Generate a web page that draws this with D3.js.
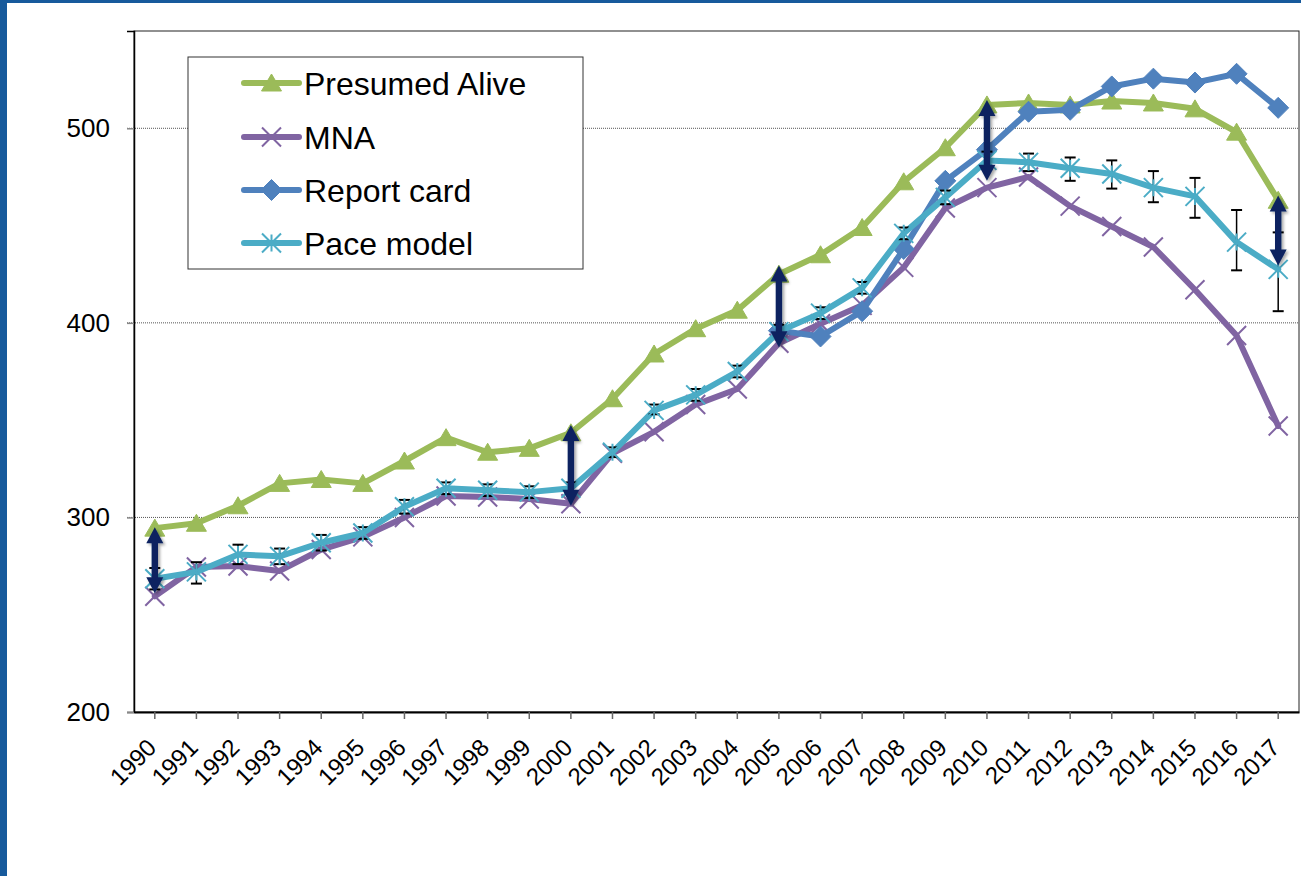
<!DOCTYPE html>
<html>
<head>
<meta charset="utf-8">
<script src="https://cdn.jsdelivr.net/npm/d3@7"></script>
<style>
  html, body { margin: 0; padding: 0; background: #fff; }
  svg { display: block; font-family: "Liberation Sans", Arial, sans-serif; }
</style>
</head>
<body>
<svg id="chart" width="1301" height="876"></svg>
<script>
const years = [1990,1991,1992,1993,1994,1995,1996,1997,1998,1999,2000,2001,2002,2003,2004,2005,2006,2007,2008,2009,2010,2011,2012,2013,2014,2015,2016,2017];

const presumedAlive = [294.5,297,306,317.5,319.5,317.5,329,341,333.5,335.5,343.5,361,384,397,406.5,425,435,449,472.5,490,512,513,512,514,513,510,498,463];
const mna = [259.5,274.5,275,272.5,283.5,290,300,311,310.5,309.5,307,333,344,358,366,389.5,399.5,409,428.5,459,469.5,475,460,449.5,439,417,393.5,347];
const reportCard = [null,null,null,null,null,null,null,null,null,null,null,null,null,null,null,396,393,406,438,473,489,508.5,509.5,521.5,525.5,523.5,528,510.5];
const paceModel = [268.5,272,281,280,287,292,305.5,315,314,313,315,333.5,355,363,375,395.5,405,418,446,464.5,483.5,482.5,479.5,476.5,469.5,465,441.5,427.5];
const paceLow  = [263,266,276,276,283,289,302,312,311,310,312,331,353,360,372,393,402,415,443,461,479,478,473,469,462,454,427,406];
const paceHigh = [274,277,286,284,291,295,309,318,317,316,318,336,358,366,378,399,408,421,449,468,488,487,485,483.5,478,474.5,458,446.5];

const arrowYears  = [1990,2000,2005,2010,2017];
const arrowTop    = [295,347.5,429.5,514.5,465.5];
const arrowBottom = [261,306,387.5,473,429.5];

const yTicks = [200,300,400,500];
const seriesNames = ["Presumed Alive","MNA","Report card","Pace model"];
const seriesColors = ["#9BBB59","#8064A2","#4F81BD","#4BACC6"];
const seriesMarkers = ["triangle","cross","diamond","star"];

const svg = d3.select("#chart");
const W = 1301, H = 876;
const plot = {left: 134, right: 1299, top: 31, bottom: 712};

svg.append("rect").attr("x",0).attr("y",0).attr("width",W).attr("height",H).attr("fill","#fff");
svg.append("rect").attr("x",0).attr("y",0).attr("width",7).attr("height",H).attr("fill","#175A9C");
svg.append("rect").attr("x",0).attr("y",0).attr("width",W).attr("height",3).attr("fill","#175A9C");

const defs = svg.append("defs");
const f = defs.append("filter").attr("id","shadow").attr("x","-50%").attr("y","-20%").attr("width","200%").attr("height","140%");
f.append("feDropShadow").attr("dx",2).attr("dy",2).attr("stdDeviation",1.5).attr("flood-color","#000").attr("flood-opacity",0.35);

const x = d3.scaleBand().domain(years).range([plot.left, plot.right]);
const xc = d => x(d) + x.bandwidth()/2;
const y = d3.scaleLinear().domain([200,550]).range([plot.bottom, plot.top]);

// gridlines
svg.append("g").selectAll("line").data(yTicks.filter(t => t !== 200)).join("line")
  .attr("x1", plot.left - 7).attr("x2", plot.right)
  .attr("y1", d => y(d)).attr("y2", d => y(d))
  .attr("stroke","#555").attr("stroke-width",1).attr("stroke-dasharray","1,1");

// plot frame
svg.append("rect").attr("x",plot.left).attr("y",plot.top)
  .attr("width",plot.right-plot.left).attr("height",plot.bottom-plot.top)
  .attr("fill","none").attr("stroke","#222").attr("stroke-width",1);

// y axis
const yAxis = d3.axisLeft(y).tickValues(yTicks).tickSize(7).tickPadding(17).tickFormat(d3.format("d"));
const gy = svg.append("g").attr("transform",`translate(${plot.left},0)`).call(yAxis);
gy.attr("font-size",26).attr("font-family","'Liberation Sans', Arial, sans-serif");
gy.select(".domain").attr("stroke","#000").attr("stroke-width",1.5);
gy.selectAll(".tick line").attr("stroke","#888").attr("stroke-width",1.5);
gy.selectAll(".tick text").attr("fill","#000");

// x axis
const xAxis = d3.axisBottom(x).tickSize(7).tickSizeOuter(0);
const gx = svg.append("g").attr("transform",`translate(0,${plot.bottom})`).call(xAxis);
gx.attr("font-size",24).attr("font-family","'Liberation Sans', Arial, sans-serif");
gx.select(".domain").attr("stroke","#000").attr("stroke-width",2);
gx.selectAll(".tick line").attr("stroke","#666").attr("stroke-width",1.5);
gx.selectAll(".tick text")
  .attr("fill","#000")
  .attr("text-anchor","end")
  .attr("dy",0).attr("y",0)
  .attr("transform","translate(3,37) rotate(-45)");

function markerPath(type){
  switch(type){
    case "triangle": return "M0,-9L10,8L-10,8Z";
    case "diamond":  return "M0,-10.5L10.5,0L0,10.5L-10.5,0Z";
    case "cross":    return "M-9.5,-9.5L9.5,9.5M-9.5,9.5L9.5,-9.5";
    case "star":     return "M-9.5,-9.5L9.5,9.5M-9.5,9.5L9.5,-9.5M0,-8.5L0,8.5";
  }
}
function drawMarker(g, type, color){
  const filled = (type === "triangle" || type === "diamond");
  g.append("path").attr("d", markerPath(type))
    .attr("fill", filled ? color : "none")
    .attr("stroke", color)
    .attr("stroke-width", filled ? 1 : 2);
}

const allSeries = [presumedAlive, mna, reportCard, paceModel];
const lineGen = d3.line().defined(d => d.v != null).x(d => xc(d.year)).y(d => y(d.v));

allSeries.forEach((vals, i) => {
  const data = years.map((yr, j) => ({year: yr, v: vals[j]}));
  const g = svg.append("g");
  g.append("path").datum(data).attr("d", lineGen)
    .attr("fill","none").attr("stroke",seriesColors[i]).attr("stroke-width",6)
    .attr("stroke-linejoin","round").attr("stroke-linecap","round");
  if (i === 3) {
    const eb = g.append("g");
    years.forEach((yr, j) => {
      const cx = xc(yr);
      eb.append("line").attr("x1",cx).attr("x2",cx).attr("y1",y(paceLow[j])).attr("y2",y(paceHigh[j]))
        .attr("stroke","#000").attr("stroke-width",1.5);
      [paceLow[j], paceHigh[j]].forEach(v => {
        eb.append("line").attr("x1",cx-5.5).attr("x2",cx+5.5).attr("y1",y(v)).attr("y2",y(v))
          .attr("stroke","#000").attr("stroke-width",2);
      });
    });
  }
  data.filter(d => d.v != null).forEach(d => {
    const mg = g.append("g").attr("transform",`translate(${xc(d.year)},${y(d.v)})`);
    drawMarker(mg, seriesMarkers[i], seriesColors[i]);
  });
});

// double-headed arrows
const ag = svg.append("g").attr("filter","url(#shadow)");
arrowYears.forEach((yr, k) => {
  const cx = xc(yr), yt = y(arrowTop[k]), yb = y(arrowBottom[k]);
  const hw = 8.5, hl = 16, sw = 3.2;
  const p = `M${cx},${yt} L${cx+hw},${yt+hl} L${cx+sw},${yt+hl} L${cx+sw},${yb-hl} L${cx+hw},${yb-hl} L${cx},${yb} L${cx-hw},${yb-hl} L${cx-sw},${yb-hl} L${cx-sw},${yt+hl} L${cx-hw},${yt+hl} Z`;
  ag.append("path").attr("d",p).attr("fill","#0B2461");
});

// legend
const lg = svg.append("g");
lg.append("rect").attr("x",188).attr("y",57).attr("width",395).attr("height",212)
  .attr("fill","#fff").attr("stroke","#333").attr("stroke-width",1);
const rowY = [83,137,190,243];
seriesNames.forEach((name, i) => {
  lg.append("line").attr("x1",244).attr("x2",299).attr("y1",rowY[i]).attr("y2",rowY[i])
    .attr("stroke",seriesColors[i]).attr("stroke-width",6).attr("stroke-linecap","round");
  const mg = lg.append("g").attr("transform",`translate(271.5,${rowY[i]})`);
  drawMarker(mg, seriesMarkers[i], seriesColors[i]);
  lg.append("text").attr("x",304).attr("y",rowY[i]).attr("dy","0.36em")
    .attr("font-size",32).attr("fill","#000").text(name);
});
</script>
</body>
</html>
